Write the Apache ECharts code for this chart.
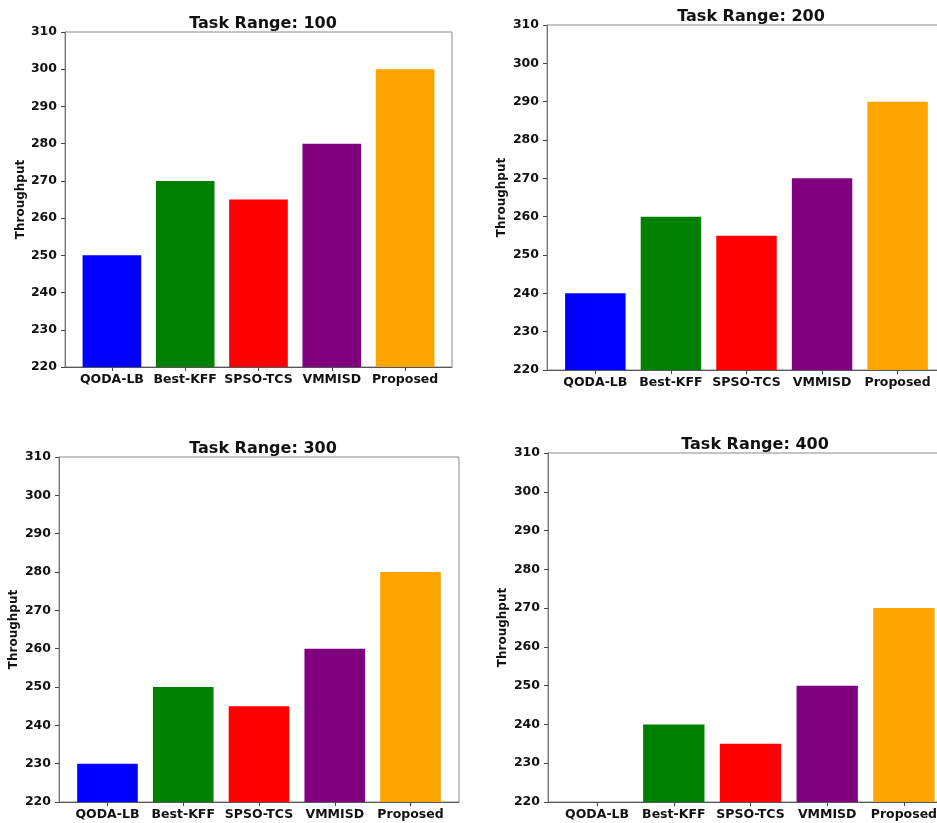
<!DOCTYPE html>
<html>
<head>
<meta charset="utf-8">
<script src="https://cdn.jsdelivr.net/npm/echarts@6/dist/echarts.min.js"></script>
<style>
  html, body { margin: 0; padding: 0; background: #fff; }
  #chart { width: 937px; height: 823px; }
</style>
</head>
<body>
<div id="chart"></div>
<script>
// Algorithms compared in every panel
const categories = ['QODA-LB', 'Best-KFF', 'SPSO-TCS', 'VMMISD', 'Proposed'];
const barColors = ['#0000ff', '#008000', '#ff0000', '#800080', '#ffa500'];

// Throughput per algorithm for each task range
const taskRanges = [100, 200, 300, 400];
const throughput100 = [250, 270, 265, 280, 300];
const throughput200 = [240, 260, 255, 270, 290];
const throughput300 = [230, 250, 245, 260, 280];
const throughput400 = [220, 240, 235, 250, 270];
const seriesValues = [throughput100, throughput200, throughput300, throughput400];

// Y axis scale
const yMin = 220, yMax = 310, yStep = 10;

// Panel placement on the page (pixels); the right-hand panels run past the page edge
const panels = [
  { left: 65,  top: 32,  height: 335, width: 387, titleX: 258, titleY: 11,  nameGap: 31 },
  { left: 547, top: 25,  height: 345, width: 399, titleX: 746, titleY: 4,   nameGap: 39 },
  { left: 59,  top: 457, height: 345, width: 400, titleX: 258, titleY: 436, nameGap: 39 },
  { left: 548, top: 453, height: 349, width: 405, titleX: 750, titleY: 432, nameGap: 39 }
];

const FONT = 'DejaVu Sans';
const xPad = 0.64; // space either side of the outer bars, in category units

const option = { animation: false, title: [], grid: [], xAxis: [], yAxis: [], series: [] };

panels.forEach((p, i) => {
  const unit = p.width / (categories.length - 1 + 2 * xPad);
  option.title.push({
    text: 'Task Range: ' + taskRanges[i],
    left: p.titleX, top: p.titleY, textAlign: 'center',
    textStyle: { fontFamily: FONT, fontWeight: 'bold', fontSize: 16, color: '#111' }
  });
  option.grid.push({
    left: p.left, top: p.top, width: p.width, height: p.height,
    outerBoundsMode: 'none', containLabel: false,
    show: true, borderColor: '#8a8a8a', borderWidth: 1, backgroundColor: '#fff'
  });
  option.xAxis.push({
    type: 'value', gridIndex: i,
    min: -xPad, max: categories.length - 1 + xPad,
    axisLine: { show: true, onZero: false, lineStyle: { color: '#555', width: 1 } },
    axisTick: { show: true, length: 4, customValues: categories.map((_, k) => k), lineStyle: { color: '#444' } },
    splitLine: { show: false },
    axisLabel: {
      customValues: categories.map((_, k) => k),
      formatter: v => categories[Math.round(v)] || '',
      margin: 6,
      fontFamily: FONT, fontWeight: 'bold', fontSize: 12.5, color: '#111'
    }
  });
  option.yAxis.push({
    type: 'value', gridIndex: i,
    min: yMin, max: yMax, interval: yStep,
    name: 'Throughput', nameLocation: 'middle', nameGap: p.nameGap,
    nameTextStyle: { fontFamily: FONT, fontWeight: 'bold', fontSize: 12, color: '#111' },
    axisLine: { show: true, onZero: false, lineStyle: { color: '#777', width: 1 } },
    axisTick: { show: true, length: 4, lineStyle: { color: '#444' } },
    splitLine: { show: false },
    axisLabel: { margin: 8, fontFamily: FONT, fontWeight: 'bold', fontSize: 12.5, color: '#111' }
  });
  option.series.push({
    type: 'bar', xAxisIndex: i, yAxisIndex: i,
    barWidth: unit * 0.8,
    data: seriesValues[i].map((v, k) => ({ value: [k, v], itemStyle: { color: barColors[k] } }))
  });
});

const chart = echarts.init(document.getElementById('chart'), null, { renderer: 'canvas' });
chart.setOption(option);
</script>
</body>
</html>
